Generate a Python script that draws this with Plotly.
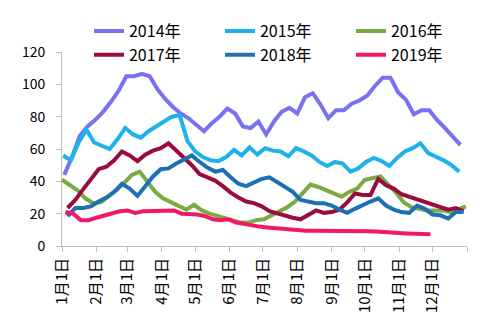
import pandas as pd
import plotly.graph_objects as go

# All years share one calendar axis; each weekly series is placed on it by month/day.
AXIS_YEAR = 2001

years = ["2014年", "2015年", "2016年", "2017年", "2018年", "2019年"]
first_week = ["01-03", "01-02", "01-01", "01-06", "01-06", "01-04"]
colors = ["#7A70F2", "#1DB3EA", "#77AC41", "#9A0B3E", "#1D6FB6", "#F3176A"]

v2014 = [44, 55, 68, 74, 78, 83, 89, 96, 105, 105, 106.5, 105, 97, 91, 86, 82, 79, 75, 71, 76,
         80, 85, 82, 74, 73, 77, 69, 77, 83, 85.5, 82, 92, 94.5, 87.5, 79, 84, 84, 88, 90, 93,
         99, 104, 104, 95, 90.5, 81.5, 84, 84, 78, 73, 68, 62.5]
v2015 = [56, 53, 64, 72, 64, 62, 60, 66, 73, 69, 67, 71, 74, 77, 80, 81, 65, 58.5, 55, 53,
         52.5, 55, 59.5, 56, 61, 56.5, 60.5, 59, 58.5, 55.5, 60.5, 58.5, 56, 52, 49.5, 52, 51, 46, 48, 52,
         54.5, 52.5, 49.5, 54.5, 58.5, 60.5, 63.5, 57.5, 55.5, 53, 50, 46]
v2016 = [41, 38, 34.5, 29.5, 26.5, 27, 30.5, 34.5, 39, 44, 46, 40, 33.5, 29.5, 27, 25, 22.5, 25.5, 22, 20,
         18.5, 17, 15.5, 14.5, 14.5, 16, 16.5, 19, 21.5, 24, 27.5, 33, 38, 36.5, 34.5, 33, 30.5, 33.5, 35.5, 41,
         42, 43, 38, 33, 27, 24, 23, 22, 22, 22, 21, 23, 24.5]
v2017 = [23.5, 28.5, 35, 41.5, 47.5, 49, 53, 58.5, 56, 52.5, 56.5, 59, 60.5, 63.5, 59, 55, 50, 44.5, 42.5, 40.5,
         37, 33, 30, 27.5, 26.5, 24.5, 21.5, 20, 18.5, 17.5, 16.5, 19, 22, 20.5, 21, 22.5, 27, 32.5, 31.5, 31.5,
         41.5, 37.5, 35.5, 32, 30.5, 29, 27.5, 26, 24.5, 22.5, 23.5, 21.5]
v2018 = [18.5, 23.5, 23.5, 24.5, 27.5, 30, 33.5, 38.5, 35.5, 31, 37, 43, 47.5, 48, 51, 53.5, 56, 52, 48.5, 46,
         47, 42.5, 38.5, 37, 39, 41.5, 42.5, 39.5, 36, 33.5, 28.5, 27.5, 26.5, 26.5, 25, 22.5, 20.5, 23, 25.5, 27.5,
         29.5, 25, 22.5, 21, 20.5, 25, 23, 19.5, 19, 17, 21, 21]
v2019 = [21, 20, 16, 16, 17.5, 19, 20.5, 21.5, 22, 20.5, 21.5, 21.5, 22, 22, 22, 20, 20, 19.5, 18.5, 16.5,
         16, 16.5, 14.5, 13.5, 13, 12, 11.5, 11, 10.5, 10, 9.5, 9.5, 9.5, 9.5, 9.5, 9.8, 9.8, 9.5, 9.5, 9.2,
         9, 8.5, 8.3, 8, 7.8, 7.5, 7.3, 7.2]

series_values = [v2014, v2015, v2016, v2017, v2018, v2019]

month_ticks = [f"{AXIS_YEAR}-{m:02d}-01" for m in range(1, 13)] + [f"{AXIS_YEAR + 1}-01-01"]
month_labels = [f"{m}月1日" for m in range(1, 13)] + [""]
y_ticks = [0, 20, 40, 60, 80, 100, 120]

FONT = "Noto Sans CJK SC"
AXIS_GREY = "#BFBFBF"

fig = go.Figure()
for name, start, color, vals in zip(years, first_week, colors, series_values):
    dates = pd.date_range(f"{AXIS_YEAR}-{start}", periods=len(vals), freq="7D")
    fig.add_trace(go.Scatter(
        x=dates, y=vals, name=name, mode="lines",
        line=dict(color=color, width=4),
    ))

fig.update_layout(
    width=494, height=334,
    margin=dict(l=62, r=22, t=52, b=88),
    paper_bgcolor="white", plot_bgcolor="white",
    font=dict(family=FONT, color="#000000", size=14),
    showlegend=True,
    legend=dict(
        orientation="h",
        x=1.037, xanchor="right",
        y=1.195, yanchor="top",
        entrywidth=86,
        font=dict(size=16, family=FONT),
        bgcolor="rgba(0,0,0,0)",
        tracegroupgap=0,
    ),
    xaxis=dict(
        type="date",
        range=[f"{AXIS_YEAR}-01-01", f"{AXIS_YEAR + 1}-01-01"],
        tickmode="array", tickvals=month_ticks, ticktext=month_labels,
        tickangle=-90,
        ticks="outside", ticklen=5, tickcolor=AXIS_GREY,
        showline=True, linecolor=AXIS_GREY, linewidth=1,
        showgrid=False, zeroline=False,
        tickfont=dict(size=15, family=FONT),
    ),
    yaxis=dict(
        range=[0, 120],
        tickmode="array", tickvals=y_ticks,
        ticks="outside", ticklen=5, tickcolor=AXIS_GREY,
        showline=True, linecolor=AXIS_GREY, linewidth=1,
        showgrid=False, zeroline=False,
        tickfont=dict(size=14, family=FONT),
        ticklabelstandoff=8,
    ),
)

fig.write_html("out.html")
